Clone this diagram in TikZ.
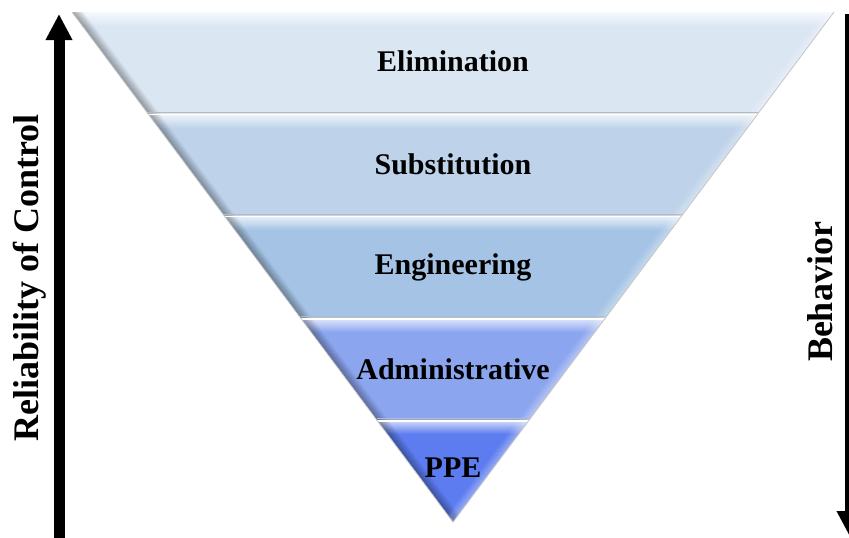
\documentclass[tikz,border=0pt]{standalone}
\usepackage{fontspec}
\setmainfont{Liberation Serif}
\usetikzlibrary{calc,arrows.meta}
\definecolor{bA}{RGB}{219,230,243}
\definecolor{bB}{RGB}{190,211,234}
\definecolor{bC}{RGB}{165,196,229}
\definecolor{bD}{RGB}{140,165,239}
\definecolor{bE}{RGB}{92,124,240}
\begin{document}
\begin{tikzpicture}[x=1pt,y=-1pt,
  lbl/.style={font=\bfseries\fontsize{30}{36}\selectfont, text=black, inner sep=0pt},
  sidelbl/.style={font=\bfseries\fontsize{36}{40}\selectfont, rotate=90, inner sep=0pt, anchor=base},
  bigarrow/.style={line width=11pt, -{Triangle[width=25pt,length=26pt]}},
  edgeline/.style={draw=gray!45, line width=0.8pt}]
\useasboundingbox (0,0) rectangle (849,538);
\coordinate (TL) at (72,12);
\coordinate (TR) at (834,12);
\coordinate (B) at (453,522);
% bands
\foreach \i/\a/\b/\c in {1/0/0.2/bA, 2/0.2/0.4/bB, 3/0.4/0.6/bC, 4/0.6/0.8/bD, 5/0.8/1/bE}{
  \coordinate (L\i) at ($(TL)!\a!(B)$);
  \coordinate (R\i) at ($(TR)!\a!(B)$);
  \coordinate (LL\i) at ($(TL)!\b!(B)$);
  \coordinate (RR\i) at ($(TR)!\b!(B)$);
  \pgfmathsetmacro{\ytop}{12+510*\a}
  \fill[\c] (L\i) -- (R\i) -- (RR\i) -- (LL\i) -- cycle;
  \begin{scope}
    \clip (L\i) -- (R\i) -- (RR\i) -- (LL\i) -- cycle;
    \shade[top color=white!75!\c, bottom color=\c] (0,\ytop) rectangle (849,\ytop+14);
    \foreach \k in {0,...,11}{
      \pgfmathsetmacro{\op}{0.022*(12-\k)}
      \draw[black, opacity=\op, line width=1pt] ($(L\i)+(\k,0)$) -- ($(LL\i)+(\k,0)$);
      \draw[white, opacity=\op, line width=1pt] ($(R\i)+(-\k,0)$) -- ($(RR\i)+(-\k,0)$);
    }
  \end{scope}
}
\foreach \i in {2,3,4,5}{
  \draw[gray!55, line width=1pt] ($(L\i)+(0,-1.2)$) -- ($(R\i)+(0,-1.2)$);
  \draw[white, line width=1.4pt] ($(L\i)+(0,0.8)$) -- ($(R\i)+(0,0.8)$);
}
\draw[edgeline] (TL) -- (B) -- (TR);
% labels
\node[lbl] (elim) at (453,61) {Elimination};
\node[lbl] (subst) at (453,164) {Substitution};
\node[lbl] (eng) at (453,267) {Engineering};
\node[lbl] (admin) at (453,369) {Administrative};
\node[lbl] (ppe) at (453,468) {PPE};
% arrows
\coordinate (lbot) at (59,545);
\coordinate (ltop) at (59,14);
\coordinate (rtop) at (850,14);
\coordinate (rbot) at (850,537);
\draw[bigarrow] (lbot) -- (ltop);
\draw[bigarrow] (rtop) -- (rbot);
\node[sidelbl] (rel) at (38,278) {Reliability of Control};
\node[sidelbl] (beh) at (832,292) {Behavior};
\end{tikzpicture}
\end{document}
